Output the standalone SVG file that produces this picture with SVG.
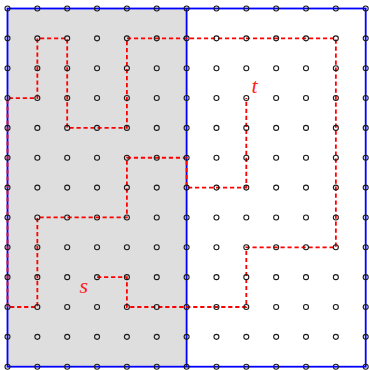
<svg xmlns="http://www.w3.org/2000/svg" xmlns:xlink="http://www.w3.org/1999/xlink" width="369" height="370" viewBox="0 0 369 370">
<style>
.frame{fill:none;stroke:#0000ff;stroke-width:1.8}
.path{fill:none;stroke:#ff0000;stroke-width:1.8;stroke-dasharray:4.2 2.8}
.dot{fill:none;stroke:#1a1a1a;stroke-width:1.1}
.lbl{font-family:"Liberation Serif",serif;font-style:italic;font-size:22px;fill:#ff2020}
</style>
<defs>
<circle id="c" class="dot" r="2.5"/>
<g id="row">
<use href="#c" x="7.5"/><use href="#c" x="37.35"/><use href="#c" x="67.2"/><use href="#c" x="97.05"/><use href="#c" x="126.9"/><use href="#c" x="156.75"/><use href="#c" x="186.6"/><use href="#c" x="216.45"/><use href="#c" x="246.3"/><use href="#c" x="276.15"/><use href="#c" x="306"/><use href="#c" x="335.85"/><use href="#c" x="365.7"/>
</g>
</defs>
<rect x="7.5" y="8.5" width="179.1" height="358.2" fill="#dedede"/>
<g id="frame">
<rect class="frame" x="7.5" y="8.5" width="358.2" height="358.2"/>
<line class="frame" x1="186.6" y1="8.5" x2="186.6" y2="366.7"/>
</g>
<g id="connectors">
<path class="path" d="M97.05,277.15 H126.9 V307 H246.3 V247.3 H335.85 V38.35 H126.9 V127.9 H67.2 V38.35 H37.35 V98.05 H7.5 V307 H37.35 V217.45 H126.9 V157.75 H186.6 V187.6 H246.3 V98.05"/>
</g>
<g id="grid">
<use href="#row" y="8.5"/><use href="#row" y="38.35"/><use href="#row" y="68.2"/><use href="#row" y="98.05"/><use href="#row" y="127.9"/><use href="#row" y="157.75"/><use href="#row" y="187.6"/><use href="#row" y="217.45"/><use href="#row" y="247.3"/><use href="#row" y="277.15"/><use href="#row" y="307"/><use href="#row" y="336.85"/><use href="#row" y="366.7"/>
</g>
<g id="node-s"><text class="lbl" x="79.5" y="292.5">s</text></g>
<g id="node-t"><text class="lbl" x="251.5" y="92.5">t</text></g>
</svg>
